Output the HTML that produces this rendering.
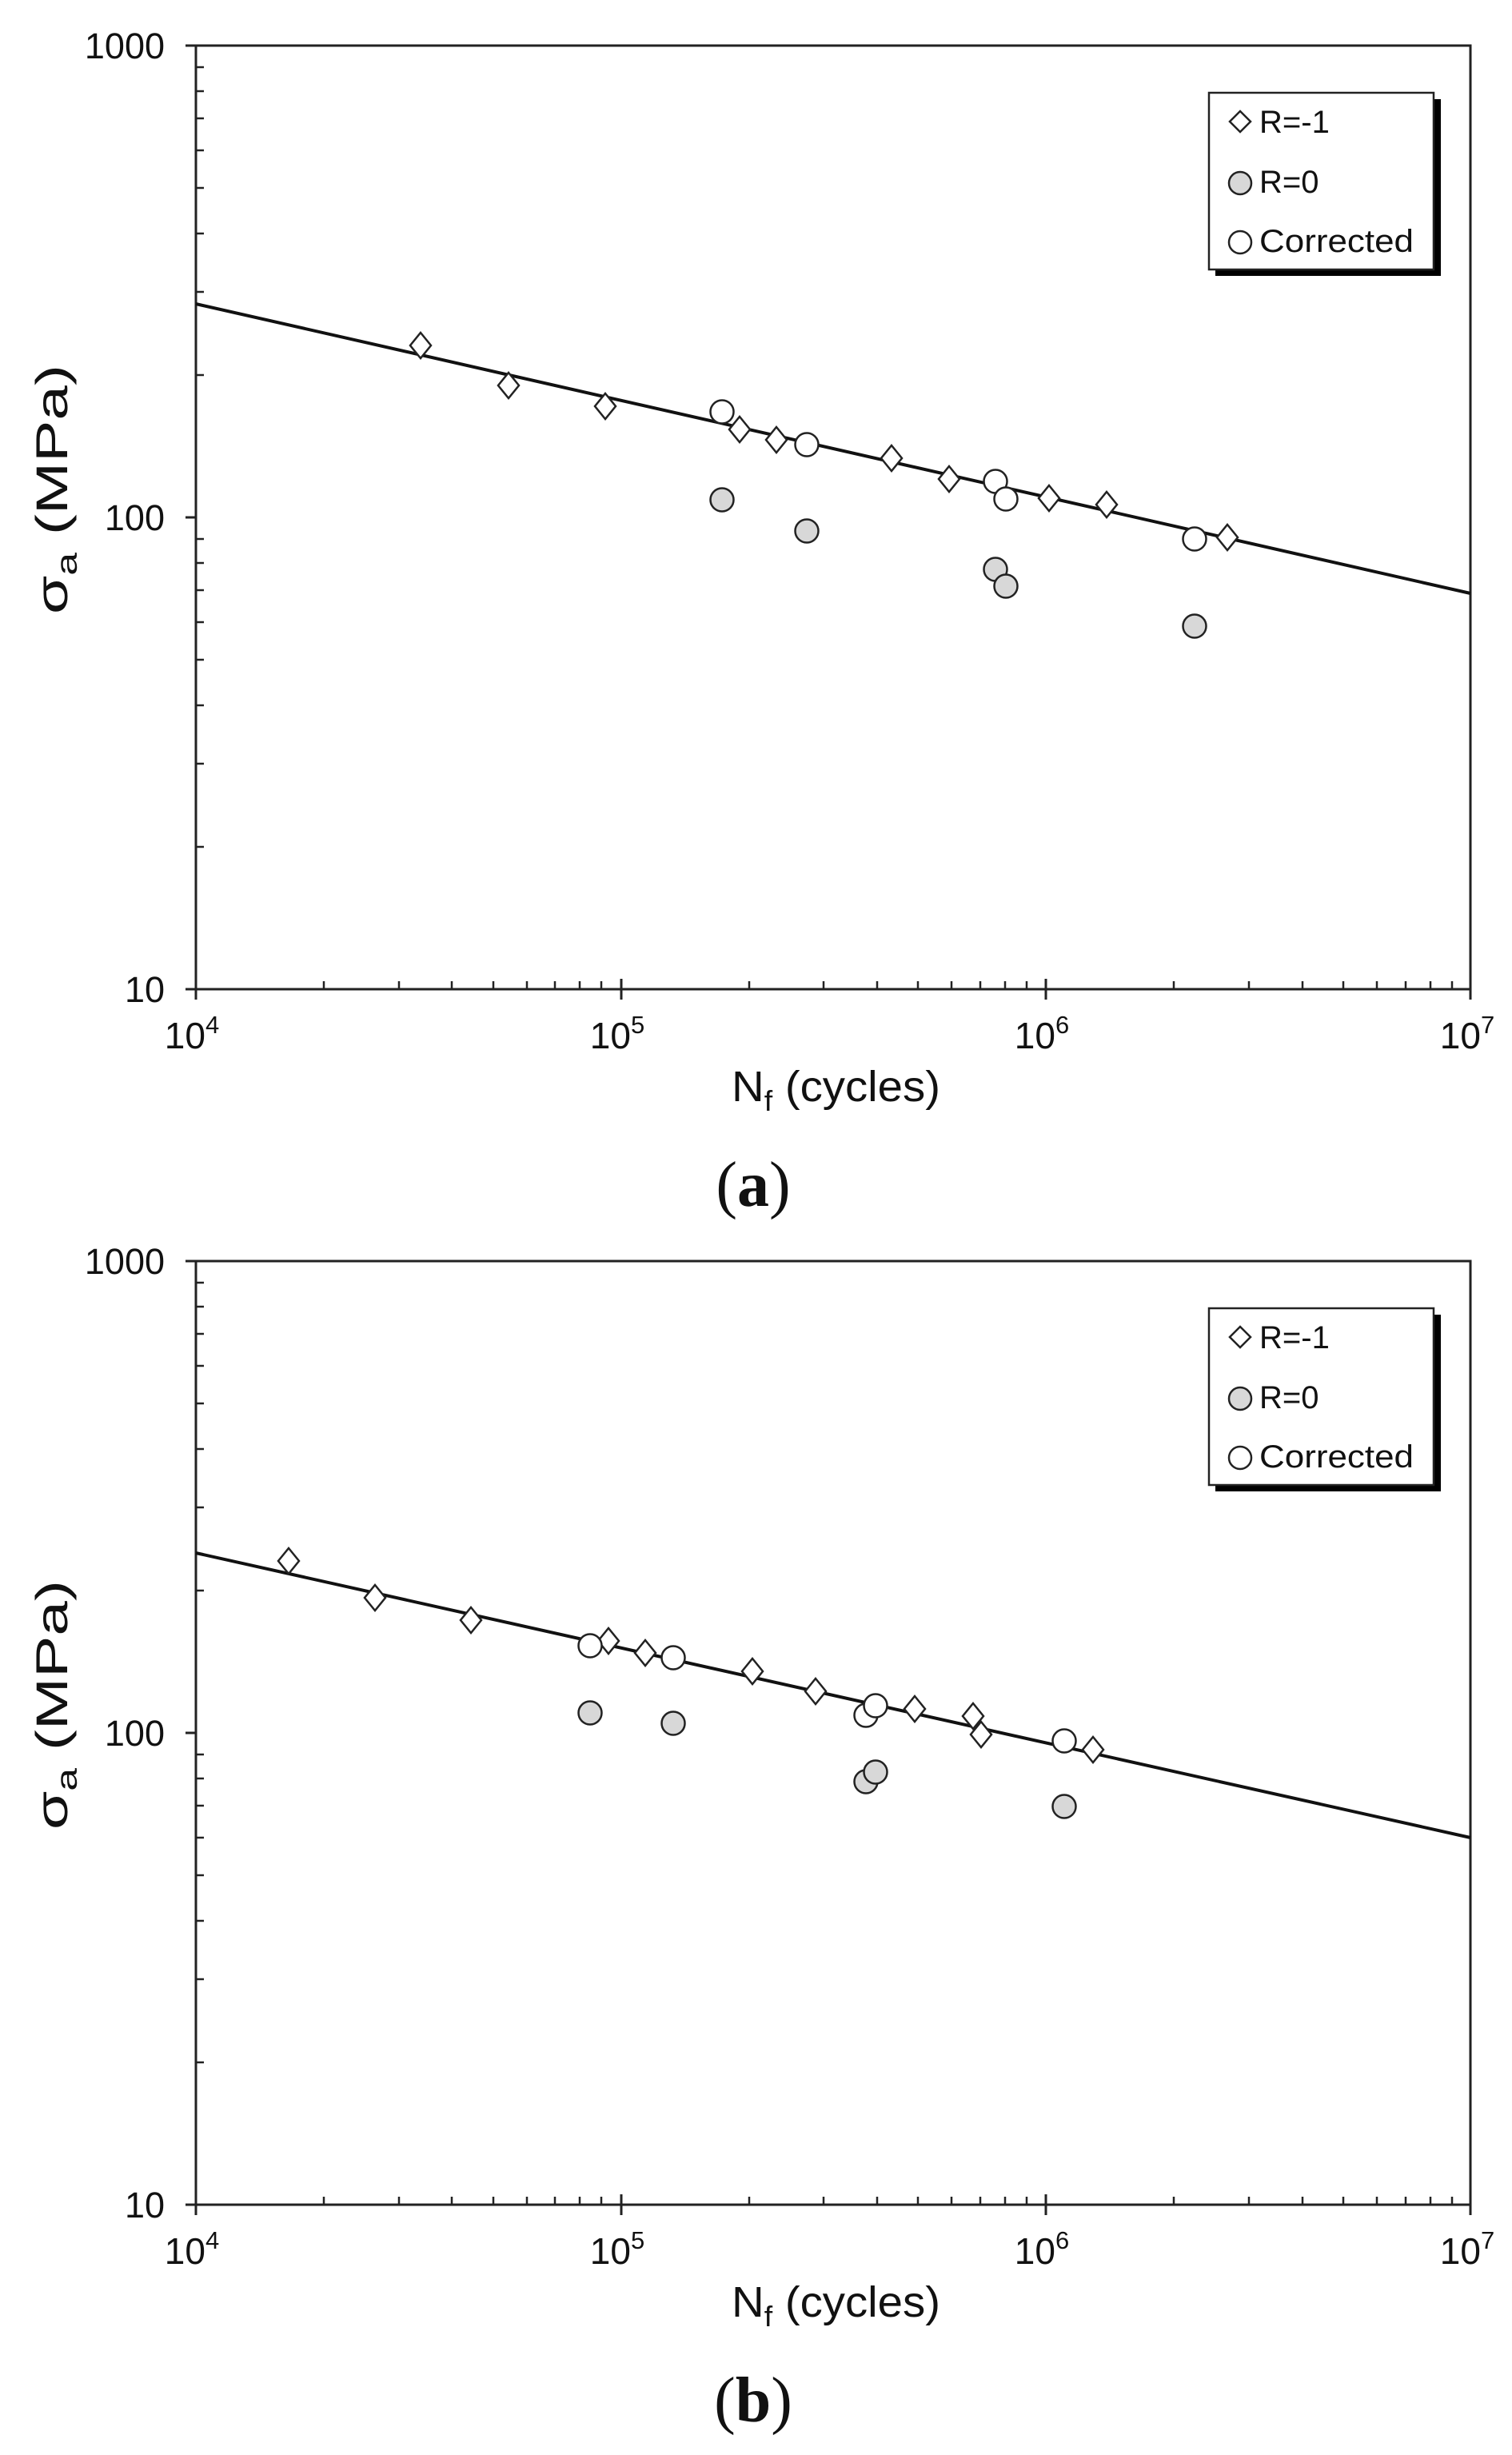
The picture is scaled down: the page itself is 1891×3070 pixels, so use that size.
<!DOCTYPE html>
<html><head><meta charset="utf-8"><style>
html,body{margin:0;padding:0;background:#fff;}
svg{display:block;}
text{font-family:"Liberation Sans",sans-serif;fill:#111;}
</style></head><body>
<svg width="1891" height="3070" viewBox="0 0 1891 3070" xmlns="http://www.w3.org/2000/svg">
<defs>
<g id="axes">
  <rect x="245" y="57" width="1594" height="1180" fill="none" stroke="#222" stroke-width="3"/>
  <path stroke="#222" stroke-width="3" fill="none" d="M232 57H245 M232 647H245 M232 1237H245 M245 1237V1250 M777 1237V1250 M1308 1237V1250 M1839 1237V1250 M777 1237V1224 M1308 1237V1224"/>
  <path stroke="#222" stroke-width="2.5" fill="none" d="
  M245 1059h10M245 955h10M245 882h10M245 825h10M245 778h10M245 738h10M245 704h10M245 674h10
  M245 469h10M245 365h10M245 292h10M245 235h10M245 188h10M245 148h10M245 114h10M245 84h10
  M405 1237v-10M499 1237v-10M565 1237v-10M617 1237v-10M659 1237v-10M694 1237v-10M725 1237v-10M752 1237v-10
  M937 1237v-10M1030 1237v-10M1097 1237v-10M1148 1237v-10M1190 1237v-10M1226 1237v-10M1257 1237v-10M1284 1237v-10
  M1468 1237v-10M1562 1237v-10M1629 1237v-10M1680 1237v-10M1722 1237v-10M1758 1237v-10M1789 1237v-10M1816 1237v-10"/>
  <g font-size="45" text-anchor="end">
    <text x="206" y="73">1000</text>
    <text x="206" y="663">100</text>
    <text x="206" y="1253">10</text>
  </g>
  <g font-size="46" text-anchor="middle">
    <text x="240" y="1311">10<tspan font-size="31" dy="-19">4</tspan></text>
    <text x="772" y="1311">10<tspan font-size="31" dy="-19">5</tspan></text>
    <text x="1303" y="1311">10<tspan font-size="31" dy="-19">6</tspan></text>
    <text x="1835" y="1311">10<tspan font-size="31" dy="-19">7</tspan></text>
  </g>
  <text x="915" y="1377" font-size="54" textLength="261" lengthAdjust="spacingAndGlyphs">N<tspan font-size="36" dy="12">f</tspan><tspan dy="-12"> (cycles)</tspan></text>
  <text transform="translate(84,768) rotate(-90)" font-size="56" textLength="312" lengthAdjust="spacingAndGlyphs">σ<tspan font-size="37" dy="12">a</tspan><tspan dy="-12"> (MPa)</tspan></text>
  <rect x="1520" y="124" width="282" height="221" fill="#000"/>
  <rect x="1512" y="116" width="281" height="221" fill="#fff" stroke="#222" stroke-width="2.5"/>
  <path d="M1551 139 L1564 152 L1551 165 L1538 152Z" fill="#fff" stroke="#222" stroke-width="2.5"/>
  <circle cx="1551" cy="229" r="14" fill="#d8d8d8" stroke="#222" stroke-width="2.5"/>
  <circle cx="1551" cy="303" r="14" fill="#fff" stroke="#222" stroke-width="2.5"/>
  <g font-size="40">
    <text x="1575" y="166">R=-1</text>
    <text x="1575" y="241">R=0</text>
    <text x="1575" y="315" textLength="193" lengthAdjust="spacingAndGlyphs">Corrected</text>
  </g>
</g>
<path id="d" d="M0 -16 L13 0 L0 16 L-13 0Z" fill="#fff" stroke="#222" stroke-width="2.5"/>
<circle id="g" r="14.5" fill="#d8d8d8" stroke="#222" stroke-width="2.5"/>
<circle id="w" r="14.5" fill="#fff" stroke="#222" stroke-width="2.5"/>
</defs>

<use href="#axes"/>
<use href="#axes" transform="translate(0,1520)"/>

<!-- chart a -->
<line x1="245" y1="380" x2="1839" y2="742" stroke="#111" stroke-width="4"/>
<use href="#d" x="526" y="432"/><use href="#d" x="636" y="482"/><use href="#d" x="757" y="508"/>
<use href="#d" x="925" y="537"/><use href="#d" x="971" y="550"/><use href="#d" x="1115" y="573"/>
<use href="#d" x="1187" y="599"/><use href="#d" x="1312" y="623"/><use href="#d" x="1384" y="631"/>
<use href="#d" x="1535" y="672"/>
<use href="#g" x="903" y="625"/><use href="#g" x="1009" y="664"/><use href="#g" x="1245" y="712"/>
<use href="#g" x="1258" y="733"/><use href="#g" x="1494" y="783"/>
<use href="#w" x="903" y="515"/><use href="#w" x="1009" y="556"/><use href="#w" x="1245" y="602"/>
<use href="#w" x="1258" y="624"/><use href="#w" x="1494" y="674"/>

<!-- chart b -->
<line x1="245" y1="1942" x2="1839" y2="2298" stroke="#111" stroke-width="4"/>
<use href="#d" x="361" y="1952"/><use href="#d" x="469" y="1998"/><use href="#d" x="589" y="2026"/>
<use href="#d" x="761" y="2052"/><use href="#d" x="807" y="2067"/><use href="#d" x="941" y="2090"/>
<use href="#d" x="1020" y="2115"/><use href="#d" x="1144" y="2137"/><use href="#d" x="1217" y="2146"/>
<use href="#d" x="1227" y="2169"/><use href="#d" x="1367" y="2188"/>
<use href="#g" x="738" y="2142"/><use href="#g" x="842" y="2155"/><use href="#g" x="1083" y="2228"/>
<use href="#g" x="1095" y="2216"/><use href="#g" x="1331" y="2259"/>
<use href="#w" x="738" y="2058"/><use href="#w" x="842" y="2073"/><use href="#w" x="1083" y="2145"/>
<use href="#w" x="1095" y="2133"/><use href="#w" x="1331" y="2177"/>

<g font-size="80" text-anchor="middle">
  <text x="942" y="1508" style="font-family:'Liberation Serif',serif">(<tspan font-weight="bold">a</tspan>)</text>
  <text x="942" y="3028" style="font-family:'Liberation Serif',serif">(<tspan font-weight="bold">b</tspan>)</text>
</g>
</svg>
</body></html>
